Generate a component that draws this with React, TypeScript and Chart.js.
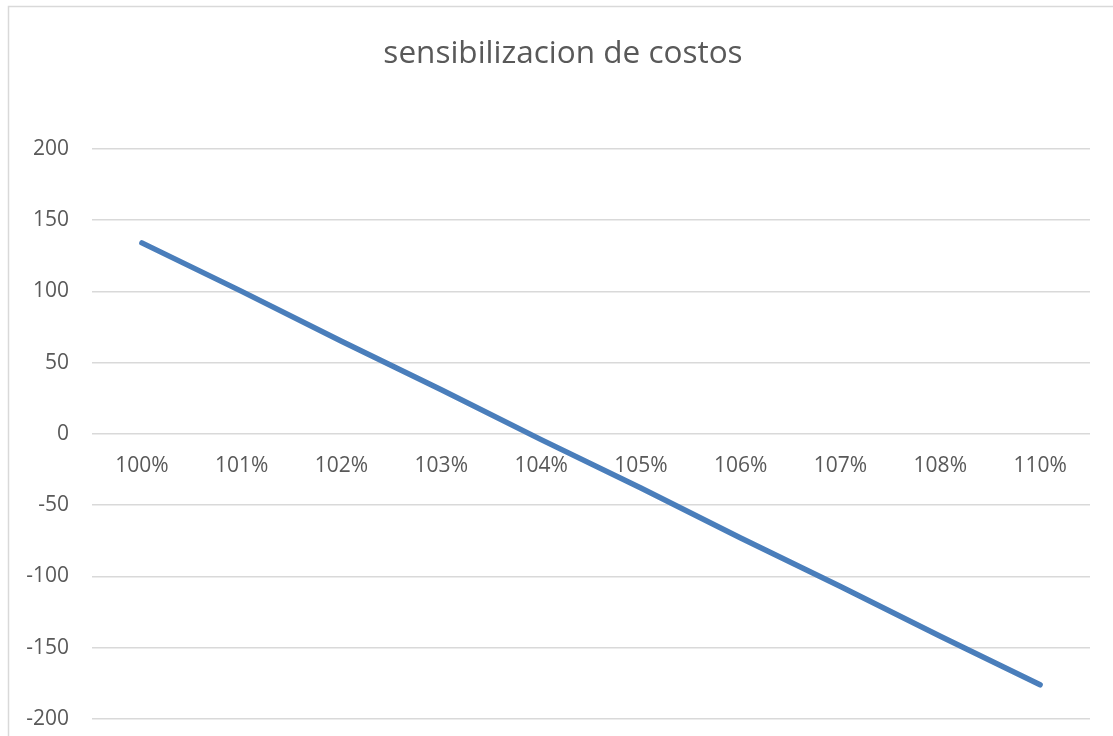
import React, { useEffect, useRef } from 'react';
import { Chart, registerables } from 'chart.js';

Chart.register(...registerables);

const titleText = 'sensibilizacion de costos';
const categories = ['100%', '101%', '102%', '103%', '104%', '105%', '106%', '107%', '108%', '110%'];
const seriesValues = [134, 100, 65, 31, -4, -38, -73, -107, -142, -176];
const yMin = -200;
const yMax = 200;
const yStep = 50;

const FONT = "'Open Sans', 'Noto Sans', sans-serif";
const TEXT_COLOR = '#595959';
const GRID_COLOR = '#d9d9d9';
const LINE_COLOR = '#4A7EBB';

const borderPlugin = {
  id: 'outerBorder',
  afterLayout(chart: any) {
    const t = chart.titleBlock;
    if (t) {
      t.left = 36;
      t.right = chart.chartArea.right;
    }
  },
  beforeDraw(chart: any) {
    const ctx = chart.ctx;
    ctx.save();
    ctx.fillStyle = '#ffffff';
    ctx.fillRect(0, 0, chart.width, chart.height);
    ctx.strokeStyle = GRID_COLOR;
    ctx.lineWidth = 1.5;
    ctx.strokeRect(8.5, 6.5, chart.width + 20, chart.height + 20);
    ctx.restore();
  },
};

export default function App() {
  const ref = useRef<HTMLCanvasElement | null>(null);

  useEffect(() => {
    if (!ref.current) return;
    const chart = new Chart(ref.current, {
      type: 'line',
      data: {
        labels: categories,
        datasets: [
          {
            label: 'costos',
            data: seriesValues,
            borderColor: LINE_COLOR,
            backgroundColor: LINE_COLOR,
            borderWidth: 5.5,
            borderCapStyle: 'round',
            borderJoinStyle: 'round',
            pointRadius: 0,
            tension: 0,
            fill: false,
          },
        ],
      },
      options: {
        responsive: false,
        animation: false,
        layout: { padding: { left: 0, right: 23, top: 0, bottom: 17 } },
        plugins: {
          legend: { display: false },
          tooltip: { enabled: false },
          title: {
            display: true,
            text: titleText,
            color: TEXT_COLOR,
            font: { family: FONT, size: 31.5, weight: 'normal' },
            padding: { top: 35, bottom: 76 },
          },
        },
        scales: {
          x: {
            type: 'category',
            offset: true,
            position: { y: 0 } as any,
            grid: { display: false, drawTicks: false, offset: true },
            border: { display: false },
            ticks: {
              color: TEXT_COLOR,
              font: { family: FONT, size: 21 },
              padding: 20,
              maxRotation: 0,
              autoSkip: false,
            },
            afterFit(scale: any) {
              scale.height = 0;
              scale.paddingLeft = 0;
              scale.paddingRight = 0;
            },
          },
          y: {
            min: yMin,
            max: yMax,
            grid: { color: GRID_COLOR, lineWidth: 1.5, drawTicks: false },
            border: { display: false },
            ticks: {
              stepSize: yStep,
              color: TEXT_COLOR,
              font: { family: FONT, size: 21 },
              padding: 23,
            },
            afterFit(scale: any) {
              scale.width = 92;
              scale.paddingTop = 0;
              scale.paddingBottom = 0;
            },
          },
        },
      },
      plugins: [borderPlugin],
    });
    return () => chart.destroy();
  }, []);

  return (
    <div style={{ position: 'fixed', left: 0, top: 0, width: 1113, height: 736, overflow: 'hidden', background: '#fff' }}>
      <canvas ref={ref} width={1113} height={736} style={{ display: 'block' }} />
    </div>
  );
}
